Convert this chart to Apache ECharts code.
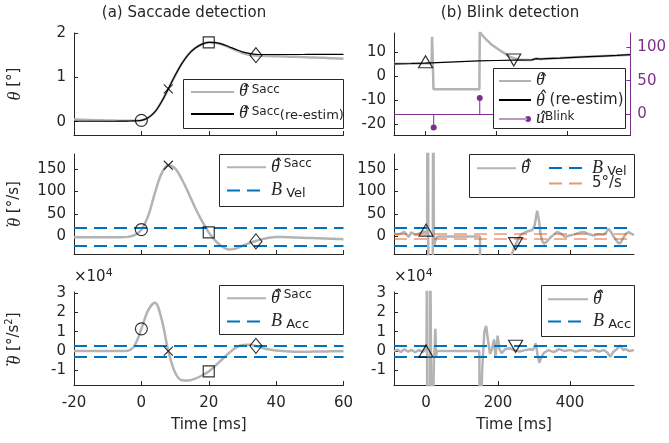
<!DOCTYPE html>
<html>
<head>
<meta charset="utf-8">
<script src="https://cdn.jsdelivr.net/npm/echarts@6/dist/echarts.min.js"></script>
<style>
  html, body { margin: 0; padding: 0; background: #fff; }
  #chart { width: 669px; height: 443px; }
</style>
</head>
<body>
<div id="chart"></div>
<script>
// ---------- (a) saccade: time base in ms ----------
const sacTime = [-20,-18,-16,-14,-12,-10,-8,-6,-4,-2,0,2,4,6,8,10,12,14,16,18,20,
                 22,24,26,28,30,32,34,36,38,40,42,44,46,48,50,52,54,56,58,60];
// eye position estimate [deg]
const sacPos = [0.05,0.045,0.04,0.035,0.03,0.028,0.025,0.022,0.02,0.02,0.03,0.09,0.22,0.45,0.74,1.04,1.31,1.52,1.66,1.75,1.79,
                1.78,1.74,1.68,1.61,1.55,1.51,1.49,1.485,1.48,1.477,1.472,1.467,1.462,1.456,1.45,1.445,1.44,1.433,1.427,1.42];
// re-estimated position [deg]
const sacPosRe = [0.01,0.01,0.01,0.01,0.01,0.01,0.01,0.012,0.015,0.02,0.03,0.09,0.22,0.45,0.74,1.04,1.31,1.52,1.66,1.75,1.79,
                  1.785,1.75,1.69,1.63,1.575,1.54,1.52,1.515,1.515,1.515,1.515,1.515,1.515,1.515,1.517,1.517,1.518,1.518,1.52,1.52];
// velocity [deg/s]
const sacVel = [-2,-2,-2,-2,-2,-2,-2,-2,-1,3,15,45,96,140,158,151,127,96,63,34,9,
                -10,-23,-29,-27,-21,-15,-10,-6,-3,-1.5,-1.5,-2,-2.5,-3,-3.5,-4,-4.5,-5,-5.5,-6];
// acceleration [1e4 deg/s^2]
const sacAcc = [0,0,0,0,0,0,0,0,0.02,0.3,1.15,2.1,2.5,1.65,0,-1.1,-1.5,-1.52,-1.42,-1.26,-1.05,
                -0.75,-0.42,-0.1,0.17,0.32,0.33,0.26,0.16,0.08,0.03,0,-0.02,-0.03,-0.03,-0.03,-0.02,-0.02,-0.01,-0.01,0];
// detected events: onset, peak velocity, offset, settled
const sacEventTime = [0, 8, 20, 34];
const sacEventPos = [0.03, 0.74, 1.79, 1.5];
const sacEventVel = [15, 158, 9, -11];
const sacEventAcc = [1.15, 0, -1.05, 0.27];
const velBound = 20;     // deg/s
const accBound = 0.3;    // 1e4 deg/s^2

// ---------- (b) blink: [time ms, value] ----------
const blinkPos = [[-89,5.0],[-40,5.15],[0,5.3],[17,5.4],[18.5,16.2],[21,15.5],[22.5,-5.5],[60,-5.5],[100,-5.5],[152,-5.5],
  [153,18.5],[156,17.6],[168,15.6],[187,12.9],[200,11.6],[215,10.1],[238,8.0],[250,7.3],[261,6.8],[275,6.6],
  [290,6.6],[300,6.65],[305,7.0],[312,7.2],[325,7.0],[340,7.15],[380,7.4],[420,7.7],[460,8.0],[500,8.25],[540,8.5],[578,8.8]];
const blinkPosRe = [[-89,5.0],[-40,5.15],[0,5.3],[50,5.6],[100,5.9],[150,6.2],[200,6.4],[250,6.55],[290,6.6],[300,6.65],
  [305,7.0],[312,7.2],[325,7.0],[340,7.15],[380,7.4],[420,7.7],[460,8.0],[500,8.25],[540,8.5],[578,8.8]];
const blinkVel = [[-89,7],[-80,4],[-70,6],[-61,10],[-55,5],[-48,-1],[-41,9],[-35,6],[-28,3],[-20,6],[-12,9],[-5,11],[0,10],[3,9],
  [5,600],[7,-300],[18,-300],[20,400],[22,-22],[25,-18],[28,-3],[35,0],[60,0],[100,0],[150,0],[151,-300],[232,-300],
  [238,-40],[244,-28],[250,-17],[256,-6],[262,2],[272,8],[285,12],[295,14],[302,25],[309,57],[314,35],[318,6],[323,-10],
  [328,-16],[335,-12],[345,-3],[355,4],[364,10],[375,6],[387,-1],[398,2],[410,4],[425,8],[438,10],[450,6],[465,2],[480,5],
  [493,4],[500,8],[507,17],[514,10],[521,0],[528,-8],[535,-15],[541,-14],[549,-2],[556,6],[563,10],[570,6],[578,3]];
const blinkAcc = [[-89,0],[-80,0.08],[-70,-0.05],[-60,0.1],[-50,-0.03],[-40,0.06],[-30,-0.06],[-20,0.05],[-10,-0.04],[-4,0.02],
  [0,-0.05],[1.5,0.3],[2.5,6],[3.5,-6],[10.5,-6],[11.5,6],[12.5,6],[16,-6],[19,-6],[22,-0.5],[24,0.2],[26,1.15],[28,-0.3],
  [30,0],[32,0],[60,0],[100,0],[148,0],
  [150,-5],[156,-1.0],[162,1.0],[167,1.3],[172,0.6],[178,-0.15],[183,0.1],[189,0.6],[193,-0.3],[199,0.8],[204,0.1],[210,-0.1],
  [220,0.1],[232,0.15],[245,0.05],[260,-0.02],[275,0.05],[290,0.1],[297,0.05],[305,0.4],[310,-0.2],[315,-0.6],[320,-0.35],
  [327,-0.1],[340,0.05],[355,-0.05],[370,0.1],[385,0],[400,0.06],[415,-0.03],[430,0.05],[450,0],[465,0.07],[480,-0.02],
  [495,0.05],[505,-0.1],[512,-0.3],[520,-0.05],[530,0.1],[540,0.3],[548,0.05],[555,0.1],[565,0],[578,0.05]];
// blink input impulses [time ms], amplitude on the right axis
const blinkInputTime = [23, 153];
const blinkInputValue = [-20, 24];
// blink start / end events
const blinkEventTime = [0, 249];
const blinkEventPos = [5.9, 6.6];
const blinkEventVel = [14, -16];
const blinkEventAcc = [0, 0.25];
const slowBound = 5;     // deg/s

// ---------- tick labels ----------
const sacTicks = [-20, 0, 20, 40, 60];
const blinkTicks = [0, 200, 400];
const posTicks = [0, 1, 2];
const blinkPosTicks = [-20, -10, 0, 10];
const inputTicks = [0, 50, 100];
const velTicks = [0, 50, 100, 150];
const accTicks = [-1, 0, 1, 2, 3];

// ---------- styling ----------
const sans = 'DejaVu Sans';
const serif = 'Liberation Serif';
const ink = '#262626';
const gray = '#b3b3b3';
const blue = '#0072BD';
const orange = 'rgba(217,83,25,0.6)';
const purple = '#7E2F8E';
const dash = [13, 7];

// rich-text pieces: accents are zero-width tokens drawn over the following symbol
const italic = { fontFamily: serif, fontStyle: 'italic', fontSize: 18, color: ink };
const rich = {
  th:  Object.assign({ lineHeight: 20 }, italic),
  tl:  Object.assign({ lineHeight: 16, verticalAlign: 'bottom' }, italic),
  td:  Object.assign({ lineHeight: 12, verticalAlign: 'bottom' }, italic),
  hat: { fontFamily: sans, fontSize: 18, width: 0.01, lineHeight: 15, verticalAlign: 'top', color: ink },
  dot: { fontFamily: sans, fontSize: 17, width: 0.01, lineHeight: 18.4, verticalAlign: 'bottom', color: ink },
  sup: { fontFamily: sans, fontSize: 12, lineHeight: 12, verticalAlign: 'top', color: ink },
  sub: { fontFamily: sans, fontSize: 13, lineHeight: 13, verticalAlign: 'bottom', color: ink },
  re:  { fontFamily: sans, fontSize: 13, lineHeight: 14, verticalAlign: 'bottom', color: ink },
  tx:  { fontFamily: sans, fontSize: 15, lineHeight: 20, color: ink },
  s:   { fontFamily: sans, fontSize: 10, lineHeight: 10, verticalAlign: 'top', color: ink },
  e:   { fontFamily: sans, fontSize: 11, lineHeight: 10, verticalAlign: 'top', color: ink }
};
const HAT = '{hat|\u2006\u02C6}';
const DOT = '{dot|\u2006\u02D9}';
const DDOT = '{dot|\u2006\u00A8}';

const legendText = {
  pos: HAT + '{tl|θ}{sup| Sacc}',
  posRe: HAT + '{tl|θ}{sup| Sacc}{re|(re-estim)}',
  vel: HAT + DOT + '{td|θ}{sup| Sacc}',
  bVel: '{th|B}{sub| Vel}',
  acc: HAT + DDOT + '{td|θ}{sup| Sacc}',
  bAcc: '{th|B}{sub| Acc}',
  posB: HAT + '{tl|θ}',
  posBRe: HAT + '{tl|θ}{tx| (re-estim)}',
  uBlink: HAT + '{tl|u}{sup|Blink}',
  velB: HAT + DOT + '{td|θ}',
  bVelB: '{th|B}{sub| Vel}',
  fiveB: '{tx|5°/s}',
  accB: HAT + DDOT + '{td|θ}',
  bAccB: '{th|B}{sub| Acc}'
};

const grids = [
  { left: 74,  top: 33,  width: 269.5, height: 102 },
  { left: 394, top: 33,  width: 240,   height: 102 },
  { left: 74,  top: 154, width: 269.5, height: 100 },
  { left: 394, top: 154, width: 240,   height: 100 },
  { left: 74,  top: 292, width: 269.5, height: 93 },
  { left: 394, top: 292, width: 240,   height: 93 }
];

function xAx(gridIndex, min, max, ticks, withLabels) {
  return {
    type: 'value', gridIndex, min, max,
    axisLine: { onZero: false, lineStyle: { color: ink, width: 1 } },
    axisTick: { inside: true, length: 4, customValues: ticks, lineStyle: { color: ink } },
    axisLabel: { show: withLabels, customValues: ticks, margin: 11, color: ink, fontFamily: sans, fontSize: 15 },
    splitLine: { show: false },
    name: withLabels ? 'Time [ms]' : '',
    nameLocation: 'middle', nameGap: 33,
    nameTextStyle: { color: ink, fontFamily: sans, fontSize: 15 }
  };
}

function yAx(gridIndex, min, max, ticks, extra) {
  return Object.assign({
    type: 'value', gridIndex, min, max,
    axisLine: { show: true, onZero: false, lineStyle: { color: ink, width: 1 } },
    axisTick: { show: true, inside: true, length: 4, customValues: ticks, lineStyle: { color: ink } },
    axisLabel: { customValues: ticks, margin: 8, color: ink, fontFamily: sans, fontSize: 15 },
    splitLine: { show: false }
  }, extra || {});
}

const yNameStyle = { color: ink, fontFamily: sans, fontSize: 15, lineHeight: 20, rich };
function sideName(text) {
  return { name: text, nameLocation: 'middle', nameRotate: 90, nameGap: 50, nameTextStyle: yNameStyle };
}
const expName = {
  name: '×10{e|4}', nameLocation: 'end', nameGap: 6,
  nameTextStyle: { color: ink, fontFamily: sans, fontSize: 15, align: 'left', verticalAlign: 'bottom', lineHeight: 18, rich }
};

function curve(name, xs, ys, xi, yi, color, width, smooth) {
  return {
    type: 'line', name, xAxisIndex: xi, yAxisIndex: yi, symbol: 'none', smooth: smooth || false,
    data: xs.map((t, k) => [t, ys[k]]),
    lineStyle: { color, width }, itemStyle: { color }, silent: true, z: 2
  };
}
function curvePairs(name, pairs, xi, yi, color, width) {
  return {
    type: 'line', name, xAxisIndex: xi, yAxisIndex: yi, symbol: 'none',
    data: pairs, lineStyle: { color, width }, itemStyle: { color }, silent: true, z: 2
  };
}
function levels(name, values, xi, yi, color, width, type) {
  return {
    type: 'line', name, xAxisIndex: xi, yAxisIndex: yi, symbol: 'none', data: [],
    lineStyle: { color, width, type }, itemStyle: { color }, silent: true,
    markLine: {
      silent: true, symbol: ['none', 'none'], label: { show: false },
      lineStyle: { color, width, type }, emphasis: { disabled: true },
      data: values.map(v => ({ yAxis: v }))
    }
  };
}

const crossPath = 'path://M0,0L10,10M10,0L0,10';
const downTri = 'path://M0,0L14,0L7,12Z';
const sacSymbols = ['circle', crossPath, 'rect', 'diamond'];
const sacSizes = [12, 9, 11, [12, 15]];
const blinkSymbols = ['triangle', downTri];
const blinkSizes = [[14, 12], [14, 12]];

function events(times, values, symbols, sizes, xi, yi) {
  return {
    type: 'scatter', xAxisIndex: xi, yAxisIndex: yi, silent: true, z: 6,
    data: times.map((t, k) => ({ value: [t, values[k]], symbol: symbols[k], symbolSize: sizes[k] })),
    itemStyle: { color: 'rgba(0,0,0,0)', borderColor: '#000', borderWidth: 1.2 }
  };
}

const stemIcon = 'path://M0,4.5L29,4.5L29,5.5L0,5.5Z M27,5A3,3,0,1,0,33,5A3,3,0,1,0,27,5Z';

function legendBlock(data, left, top, itemWidth, itemGap) {
  return {
    data, left, top, orient: 'vertical', itemWidth, itemHeight: 12, itemGap,
    padding: 0, selectedMode: false, z: 10, borderWidth: 0,
    itemStyle: { opacity: 0 },
    textStyle: { color: ink, fontFamily: sans, fontSize: 15, rich },
    formatter: n => legendText[n]
  };
}

// legend frames (white boxes behind the legend entries)
const frames = [[183, 79, 343, 128], [493, 68, 625, 128], [219, 154, 343, 206],
                [469, 154, 634, 197], [219, 285, 343, 334], [541, 285, 634, 336]];

const option = {
  animation: false,
  backgroundColor: '#fff',
  textStyle: { fontFamily: sans },
  grid: grids,
  xAxis: [
    xAx(0, -20, 60, sacTicks, false),
    xAx(1, -89, 578, blinkTicks, false),
    xAx(2, -20, 60, sacTicks, false),
    xAx(3, -89, 578, blinkTicks, false),
    xAx(4, -20, 60, sacTicks, true),
    xAx(5, -89, 578, blinkTicks, true)
  ],
  yAxis: [
    yAx(0, -0.3, 2, posTicks, sideName('{tl|θ} [°]')),
    yAx(1, -24.5, 17.8, blinkPosTicks),
    yAx(2, -39, 183, velTicks, sideName(DOT + '{td|θ} [°/s]')),
    yAx(3, -39, 183, velTicks),
    yAx(4, -1.75, 3.05, accTicks, Object.assign({}, expName)),
    yAx(5, -1.75, 3.05, accTicks, Object.assign({}, expName)),
    {
      type: 'value', gridIndex: 1, position: 'right', min: -31, max: 121,
      axisLine: { show: true, onZero: false, lineStyle: { color: purple, width: 1 } },
      axisTick: { show: true, inside: true, length: 4, customValues: inputTicks, lineStyle: { color: purple } },
      axisLabel: { customValues: inputTicks, margin: 7, color: purple, fontFamily: sans, fontSize: 15 },
      splitLine: { show: false }
    },
    // carries only the side title of the acceleration panel
    Object.assign({
      type: 'value', gridIndex: 4, position: 'left', min: -1.75, max: 3.05,
      axisLine: { show: false }, axisTick: { show: false }, axisLabel: { show: false }, splitLine: { show: false }
    }, sideName(DDOT + '{td|θ} [°/s{s|2}]'))
  ],
  legend: [
    legendBlock(['pos', 'posRe'], 190, 82, 43, 2),
    legendBlock(['posB', 'posBRe', { name: 'uBlink', icon: stemIcon, itemStyle: { color: purple, opacity: 1 } }], 498, 71, 32, -1),
    legendBlock(['vel', 'bVel'], 226, 158, 39, 5),
    legendBlock(['velB'], 476, 159, 39, 0),
    legendBlock(['bVelB', 'fiveB'], 548, 159, 38, -2),
    legendBlock(['acc', 'bAcc'], 226, 289, 39, 5),
    legendBlock(['accB', 'bAccB'], 547, 290, 40, 4)
  ],
  graphic: [
    ...frames.map(b => ({
      type: 'rect', z: 8, silent: true,
      shape: { x: b[0] + 0.5, y: b[1] + 0.5, width: b[2] - b[0], height: b[3] - b[1] },
      style: { fill: '#fff', stroke: ink, lineWidth: 1 }
    })),
    { type: 'text', x: 184, y: 13, z: 8, silent: true,
      style: { text: '(a) Saccade detection', font: '15px "DejaVu Sans"', fill: ink,
               align: 'center', verticalAlign: 'middle', textAlign: 'center', textVerticalAlign: 'middle' } },
    { type: 'text', x: 510, y: 13, z: 8, silent: true,
      style: { text: '(b) Blink detection', font: '15px "DejaVu Sans"', fill: ink,
               align: 'center', verticalAlign: 'middle', textAlign: 'center', textVerticalAlign: 'middle' } }
  ],
  series: [
    // (a) position
    curve('pos', sacTime, sacPos, 0, 0, gray, 2.5, 0.35),
    curve('posRe', sacTime, sacPosRe, 0, 0, '#000', 1.2, 0.35),
    events(sacEventTime, sacEventPos, sacSymbols, sacSizes, 0, 0),
    // (a) velocity
    curve('vel', sacTime, sacVel, 2, 2, gray, 2.5, 0.35),
    levels('bVel', [velBound, -velBound], 2, 2, blue, 2.2, dash),
    events(sacEventTime, sacEventVel, sacSymbols, sacSizes, 2, 2),
    // (a) acceleration
    curve('acc', sacTime, sacAcc, 4, 4, gray, 2.5, 0.35),
    levels('bAcc', [accBound, -accBound], 4, 4, blue, 2.2, dash),
    events(sacEventTime, sacEventAcc, sacSymbols, sacSizes, 4, 4),
    // (b) position
    curvePairs('posB', blinkPos, 1, 1, gray, 2.5),
    curvePairs('posBRe', blinkPosRe, 1, 1, '#000', 1.2),
    levels('uBase', [0], 1, 6, purple, 1, 'solid'),
    {
      type: 'custom', name: 'uBlink', xAxisIndex: 1, yAxisIndex: 6, z: 4, silent: true,
      itemStyle: { color: purple },
      data: blinkInputTime.map((t, k) => [t, blinkInputValue[k]]),
      renderItem: (params, api) => {
        const base = api.coord([api.value(0), 0]);
        const tip = api.coord([api.value(0), api.value(1)]);
        return {
          type: 'group',
          children: [
            { type: 'line', shape: { x1: base[0], y1: base[1], x2: tip[0], y2: tip[1] }, style: { stroke: purple, lineWidth: 1 } },
            { type: 'circle', shape: { cx: tip[0], cy: tip[1], r: 3 }, style: { fill: purple } }
          ]
        };
      }
    },
    events(blinkEventTime, blinkEventPos, blinkSymbols, blinkSizes, 1, 1),
    // (b) velocity
    curvePairs('velB', blinkVel, 3, 3, gray, 2.5),
    levels('bVelB', [velBound, -velBound], 3, 3, blue, 2.2, dash),
    levels('fiveB', [slowBound, -slowBound], 3, 3, orange, 1.6, dash),
    events(blinkEventTime, blinkEventVel, blinkSymbols, blinkSizes, 3, 3),
    // (b) acceleration
    curvePairs('accB', blinkAcc, 5, 5, gray, 2.5),
    levels('bAccB', [accBound, -accBound], 5, 5, blue, 2.2, dash),
    events(blinkEventTime, blinkEventAcc, blinkSymbols, blinkSizes, 5, 5)
  ]
};

const chart = echarts.init(document.getElementById('chart'), null, { renderer: 'canvas' });
chart.setOption(option);
</script>
</body>
</html>
